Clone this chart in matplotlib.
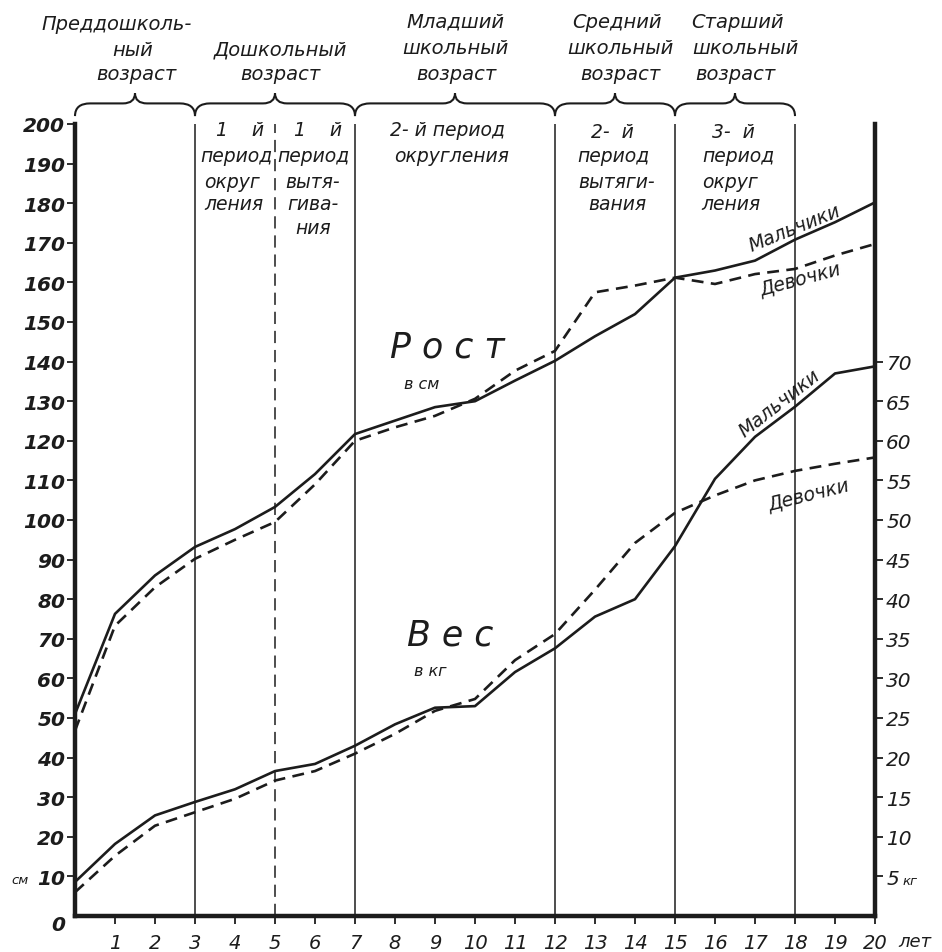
import matplotlib
matplotlib.use("Agg")
import matplotlib.pyplot as plt
from matplotlib.path import Path
from matplotlib.patches import PathPatch

# ---------------- data ----------------
ages = list(range(0, 21))
height_boys = [51, 76.3, 86, 93.2, 97.7, 103.3, 111.6, 121.7, 125.1, 128.5, 130.0,
               135.2, 140.2, 146.4, 152.0, 161.2, 163.0, 165.5, 170.8, 175.2, 180.2]
height_girls = [46.8, 73.3, 83.0, 90.2, 95.0, 99.5, 109.0, 120.0, 123.4, 126.3, 130.6,
                137.7, 142.7, 157.5, 159.2, 161.2, 159.6, 162.1, 163.4, 166.8, 169.7]
weight_boys = [4.3, 9.1, 12.7, 14.4, 16.0, 18.3, 19.2, 21.5, 24.2, 26.3, 26.5,
               30.8, 33.8, 37.8, 40.0, 46.7, 55.2, 60.5, 64.3, 68.5, 69.4]
weight_girls = [3.0, 7.6, 11.4, 13.1, 14.8, 17.1, 18.3, 20.5, 23.0, 25.9, 27.4,
                32.3, 35.6, 41.2, 47.1, 50.9, 53.1, 55.0, 56.2, 57.1, 57.9]

cm_ticks = list(range(10, 201, 10))
kg_ticks = list(range(5, 71, 5))
year_ticks = list(range(1, 21))

group_bounds = [(0, 3), (3, 7), (7, 12), (12, 15), (15, 18)]
solid_dividers = [3, 7, 12, 15, 18]
dashed_dividers = [5]

INK = "#1c1c1c"
W, H = 942, 953
fig = plt.figure(figsize=(W / 100, H / 100), dpi=100)
fig.patch.set_facecolor("white")

x0px, x1px, y0px, y1px = 75, 875, 917, 125
ax = fig.add_axes([x0px / W, 1 - y0px / H, (x1px - x0px) / W, (y0px - y1px) / H])
ax.set_xlim(0, 20)
ax.set_ylim(0, 200)
ax2 = ax.twinx()
ax2.set_ylim(0, 100)

FONT = dict(family="DejaVu Sans", style="oblique", color=INK)

# spines
for a in (ax, ax2):
    a.spines["top"].set_visible(False)
    for s in ("left", "right", "bottom"):
        a.spines[s].set_linewidth(3.2)
        a.spines[s].set_color(INK)
ax.spines["right"].set_visible(False)
ax2.spines["left"].set_visible(False)
ax2.spines["bottom"].set_visible(False)

# ticks
ax.set_yticks(cm_ticks)
ax.set_yticklabels([str(v) for v in cm_ticks])
ax.tick_params(axis="y", direction="out", length=6, width=1.3, pad=1, colors=INK,
               labelsize=14.5)
for lbl in ax.get_yticklabels():
    lbl.set_fontstyle("oblique")
    lbl.set_fontweight("bold")
ax.set_xticks(year_ticks)
ax.set_xticklabels([str(v) for v in year_ticks])
ax.tick_params(axis="x", direction="out", length=6, width=1.3, pad=6, colors=INK,
               labelsize=14)
for lbl in ax.get_xticklabels():
    lbl.set_fontstyle("oblique")
ax2.set_yticks(kg_ticks)
ax2.set_yticklabels([str(v) for v in kg_ticks])
ax2.tick_params(axis="y", direction="out", length=6, width=1.3, pad=2, colors=INK,
                labelsize=14.5)
for lbl in ax2.get_yticklabels():
    lbl.set_fontstyle("oblique")

# divider lines
for xv in solid_dividers:
    ax.axvline(xv, color=INK, lw=1.1, zorder=1)
for xv in dashed_dividers:
    ax.axvline(xv, color=INK, lw=1.1, dashes=(8, 4.5), zorder=1)

# curves
ax.plot(ages, height_boys, color=INK, lw=1.9, zorder=3)
ax.plot(ages, height_girls, color=INK, lw=1.9, dashes=(4.5, 2.8), zorder=3)
ax2.plot(ages, weight_boys, color=INK, lw=1.9, zorder=3)
ax2.plot(ages, weight_girls, color=INK, lw=1.9, dashes=(4.5, 2.8), zorder=3)

# braces
def brace(a, b, y0=202.0, y1=205.2, y2=207.8, q=0.38, qm=0.3):
    m = (a + b) / 2
    verts = [(a, y0), (a, y1), (a + q, y1), (m - qm, y1), (m, y1), (m, y2),
             (m, y1), (m + qm, y1), (b - q, y1), (b, y1), (b, y0)]
    codes = [Path.MOVETO, Path.CURVE3, Path.CURVE3, Path.LINETO, Path.CURVE3, Path.CURVE3,
             Path.CURVE3, Path.CURVE3, Path.LINETO, Path.CURVE3, Path.CURVE3]
    ax.add_patch(PathPatch(Path(verts, codes), fill=False, lw=1.5, ec=INK,
                           clip_on=False))

for a, b in group_bounds:
    brace(a, b)

def ptxt(x, y, s, size=13.5, **kw):
    fig.text(x / W, 1 - y / H, s, ha=kw.pop("ha", "center"), va=kw.pop("va", "center"),
             fontsize=size, **FONT, **kw)

# header (age groups)
header_lines = [
    [(117, 24, "Преддошколь-"), (133, 50, "ный"), (136, 75, "возраст")],
    [(280, 50, "Дошкольный"), (280, 75, "возраст")],
    [(455, 22, "Младший"), (455, 48, "школьный"), (456, 75, "возраст")],
    [(617, 22, "Средний"), (620, 48, "школьный"), (620, 75, "возраст")],
    [(737, 22, "Старший"), (745, 48, "школьный"), (735, 75, "возраст")],
]
for grp in header_lines:
    for x, y, s in grp:
        ptxt(x, y, s, size=14)

# period labels
period_lines = [
    (240, 131, "1    й"), (236, 157, "период"), (232, 182, "округ"), (234, 205, "ления"),
    (318, 131, "1    й"), (313, 157, "период"), (313, 182, "вытя-"), (313, 205, "гива-"),
    (313, 228, "ния"),
    (447, 131, "2- й период"), (452, 157, "округления"),
    (612, 133, "2-  й"), (613, 157, "период"), (617, 182, "вытяги-"), (617, 205, "вания"),
    (733, 133, "3-  й"), (738, 157, "период"), (730, 182, "округ"), (731, 205, "ления"),
]
for x, y, s in period_lines:
    ptxt(x, y, s, size=13.5)

# big labels
ptxt(447, 347, "Р о с т", size=25)
ptxt(422, 385, "в см", size=11.5)
ptxt(450, 635, "В е с", size=25)
ptxt(430, 672, "в кг", size=11.5)

# curve labels
ax.text(18.0, 173.8, "Мальчики", rotation=22, ha="center", va="center", fontsize=13.5, **FONT)
ax.text(18.15, 161.0, "Девочки", rotation=15, ha="center", va="center", fontsize=13.5, **FONT)
ax.text(17.6, 129.5, "Мальчики", rotation=38, ha="center", va="center", fontsize=13.5, **FONT)
ax.text(18.35, 106.5, "Девочки", rotation=14, ha="center", va="center", fontsize=13.5, **FONT)

# unit labels
ptxt(20, 880, "см", size=9.5)
ptxt(910, 882, "кг", size=9.5)
ptxt(915, 942, "лет", size=13)
ptxt(58, 926, "0", size=14.5, fontweight="bold")

fig.savefig("out.png", dpi=100, facecolor="white")
